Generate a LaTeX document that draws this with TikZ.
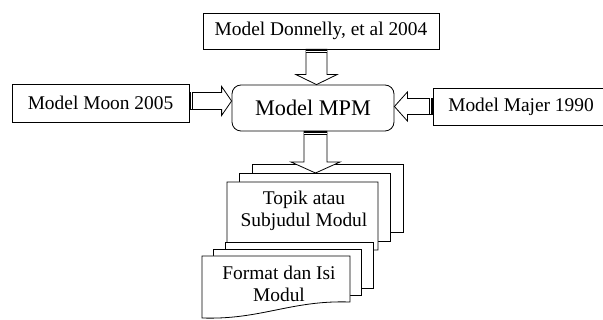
\documentclass[tikz,border=0pt]{standalone}
\usepackage{fontspec}
\setmainfont{Liberation Serif}
\usetikzlibrary{calc, backgrounds}

\tikzset{
  modelbox/.style={draw, line width=0.8pt, fill=white, inner sep=0pt,
    font=\fontsize{19.4}{22}\selectfont},
  mpmbox/.style={modelbox, rounded corners=9pt, font=\fontsize{22.3}{26}\selectfont},
  sheettext/.style={inner sep=0pt, align=center, font=\fontsize{19.4}{21.5}\selectfont},
  sheet/.style={draw, line width=0.8pt, fill=white},
  hollow/.style={draw, line width=0.8pt, fill=white, line join=miter},
}

% block arrow: from, to, angle, shaft half width, head half width, head length
\newcommand{\blockarrow}[6]{%
  \begin{scope}[shift={(#1)}, rotate=#3]
    \path[hollow] let \p1=(#1), \p2=(#2), \n1={veclen(\x2-\x1,\y2-\y1)} in
      (0pt,#4pt) -- ({\n1-#6pt},#4pt) -- ({\n1-#6pt},#5pt) -- (\n1,0pt)
      -- ({\n1-#6pt},-#5pt) -- ({\n1-#6pt},-#4pt) -- (0pt,-#4pt) -- cycle;
    \fill (0pt,-#4pt) rectangle (4pt,#4pt);
    \draw[white, line width=0.6pt] (2pt,-#4pt) -- (2pt,#4pt);
  \end{scope}}

% multi-document sheets: left, top, right, bottom, dx, dy
\newcommand{\docstack}[6]{%
  \foreach \k in {2,1}
    \draw[sheet] ({#1+\k*#5},{#2-\k*#6}) rectangle ({#3+\k*#5},{#4-\k*#6});
  \draw[sheet] (#1,#2) -- (#3,#2) -- (#3,#4)
    .. controls ({(#1+#3)/2+15},{#4-2}) and ({(#1+#3)/2-15},{#4+18}) .. (#1,{#4+16}) -- cycle;
}

\begin{document}
\begin{tikzpicture}[x=1pt, y=-1pt]
  \useasboundingbox (0,0) rectangle (603,320);

  \node[mpmbox, minimum width=162pt, minimum height=46pt] (mpm) at (313,108) {Model MPM};
  \node[modelbox, minimum width=236pt, minimum height=36pt] (don) at (321,31) {Model Donnelly, et al 2004};
  \node[modelbox, minimum width=177pt, minimum height=38pt] (moon) at (100.5,103) {Model Moon 2005};
  \node[modelbox, minimum width=176pt, minimum height=37pt] (majer) at (521,106.5) {Model Majer 1990};

  \node[sheettext] (topik) at (304,211) {Topik atau\\Subjudul Modul};
  \node[sheettext] (format) at (279,284) {Format dan Isi\\Modul};

  \begin{scope}[on background layer]
    \docstack{227}{182}{378}{250}{12.5}{9}
    \docstack{202}{256}{350}{302}{11.5}{7}
  \end{scope}

  % arrows into and out of the MPM box
  \coordinate (donout) at ([xshift=-4.5pt]don.south);
  \coordinate (mpmtop) at (donout |- mpm.north);
  \coordinate (moonout) at ([yshift=2pt]moon.east);
  \coordinate (mpmleft) at (moonout -| mpm.west);
  \coordinate (majerout) at (majer.west);
  \coordinate (mpmright) at (majerout -| mpm.east);
  \coordinate (mpmout) at ([xshift=2.5pt]mpm.south);
  \coordinate (stacktop) at (mpmout |- 0,173);

  \blockarrow{donout}{mpmtop}{-90}{10.5}{20.5}{10}
  \blockarrow{moonout}{mpmleft}{0}{8.5}{14.5}{10}
  \blockarrow{majerout}{mpmright}{180}{8}{14.5}{13}
  \blockarrow{mpmout}{stacktop}{-90}{11.5}{24.5}{11}
\end{tikzpicture}
\end{document}
